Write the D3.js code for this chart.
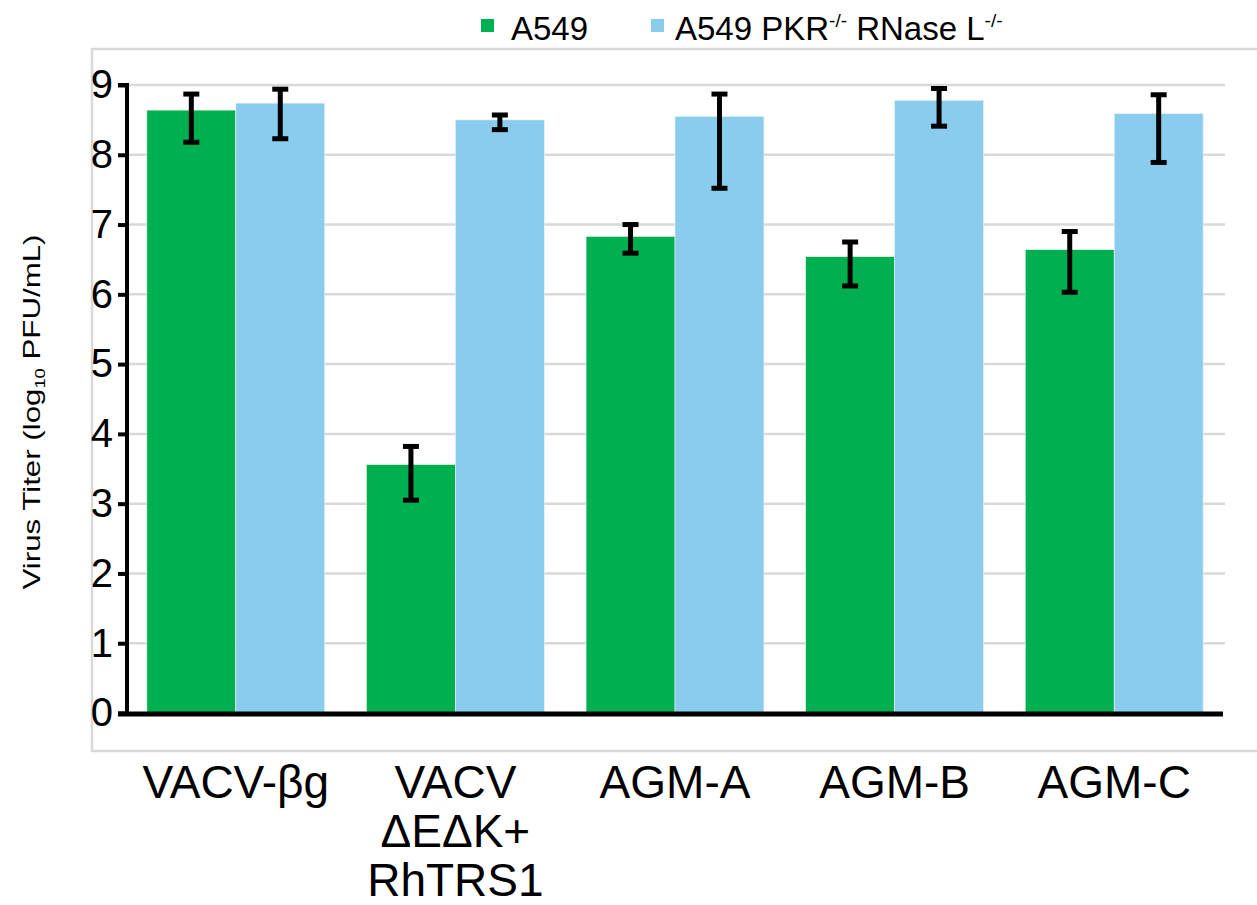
<!DOCTYPE html>
<html>
<head>
<meta charset="utf-8">
<script src="https://cdn.jsdelivr.net/npm/d3@7"></script>
<style>
  body { margin: 0; background: #fff; }
  svg { display: block; font-family: Arial, "Liberation Sans", sans-serif; }
</style>
</head>
<body>
<svg id="chart" width="1257" height="905"></svg>
<script>
// data
const groups = ["VACV-βg", "VACV\nΔEΔK+\nRhTRS1", "AGM-A", "AGM-B", "AGM-C"];
const seriesNames = ["A549", "A549 PKR-/- RNase L-/-"];
const a549 = [8.64, 3.56, 6.83, 6.54, 6.64];
const a549Lo = [8.18, 3.05, 6.59, 6.12, 6.03];
const a549Hi = [8.87, 3.82, 7.00, 6.75, 6.90];
const ko = [8.74, 8.50, 8.55, 8.78, 8.59];
const koLo = [8.23, 8.36, 7.52, 8.41, 7.89];
const koHi = [8.94, 8.57, 8.87, 8.95, 8.86];
const yTicks = [0, 1, 2, 3, 4, 5, 6, 7, 8, 9];
const colors = ["#00b050", "#89ccee"];

const svg = d3.select("#chart");

const x0 = d3.scaleBand().domain(groups).range([126, 1224]).paddingInner(0.19).paddingOuter(0.095);
const x1 = d3.scaleBand().domain([0, 1]).range([0, x0.bandwidth()]);
const y = d3.scaleLinear().domain([0, 9]).range([713, 85]);

// outer gray frame
svg.append("path")
  .attr("d", "M1260,49 H92 V751 H1260")
  .attr("fill", "none")
  .attr("stroke", "#d9d9d9")
  .attr("stroke-width", 2.5);

// gridlines
svg.append("g").selectAll("line")
  .data(yTicks.filter(d => d > 0))
  .join("line")
  .attr("x1", 127).attr("x2", 1225)
  .attr("y1", d => y(d)).attr("y2", d => y(d))
  .attr("stroke", "#d9d9d9")
  .attr("stroke-width", 2.5);

// bars
const rows = groups.map((g, i) => ({
  g,
  vals: [
    { s: 0, v: a549[i], lo: a549Lo[i], hi: a549Hi[i] },
    { s: 1, v: ko[i], lo: koLo[i], hi: koHi[i] }
  ]
}));

const gg = svg.append("g").selectAll("g")
  .data(rows)
  .join("g")
  .attr("transform", d => `translate(${x0(d.g)},0)`);

gg.selectAll("rect")
  .data(d => d.vals)
  .join("rect")
  .attr("x", d => x1(d.s))
  .attr("width", x1.bandwidth())
  .attr("y", d => y(d.v))
  .attr("height", d => y(0) - y(d.v))
  .attr("fill", d => colors[d.s])
  .attr("stroke", "#e8f6ee")
  .attr("stroke-width", 0.6);

// error bars
const eb = gg.selectAll("g.err")
  .data(d => d.vals)
  .join("g")
  .attr("class", "err")
  .attr("transform", d => `translate(${x1(d.s) + x1.bandwidth() / 2},0)`);

eb.append("line")
  .attr("y1", d => y(d.lo)).attr("y2", d => y(d.hi))
  .attr("stroke", "#000").attr("stroke-width", 5);
eb.selectAll("line.cap")
  .data(d => [d.lo, d.hi])
  .join("line")
  .attr("class", "cap")
  .attr("x1", -8).attr("x2", 8)
  .attr("y1", d => y(d)).attr("y2", d => y(d))
  .attr("stroke", "#000").attr("stroke-width", 5);

// y axis
const yAxis = d3.axisLeft(y).tickValues(yTicks).tickSize(9).tickPadding(5);
const ya = svg.append("g")
  .attr("transform", "translate(127,0)")
  .call(yAxis);
ya.select(".domain").attr("stroke-width", 4).attr("d", `M-9,${y(9)}H0V${y(0)}`);
ya.selectAll(".tick line").attr("stroke-width", 4);
ya.selectAll(".tick text")
  .attr("font-size", 40)
  .attr("font-family", "Arial, 'Liberation Sans', sans-serif")
  .attr("fill", "#000");

// x baseline
svg.append("line")
  .attr("x1", 118).attr("x2", 1223)
  .attr("y1", y(0) + 1).attr("y2", y(0) + 1)
  .attr("stroke", "#000").attr("stroke-width", 5);

// x category labels
const xl = svg.append("g").selectAll("text")
  .data(groups)
  .join("text")
  .attr("x", d => x0(d) + x0.bandwidth() / 2)
  .attr("y", 798)
  .attr("text-anchor", "middle")
  .attr("font-size", 46)
  .attr("fill", "#000");
xl.selectAll("tspan")
  .data(d => d.split("\n"))
  .join("tspan")
  .attr("x", function () { return d3.select(this.parentNode).attr("x"); })
  .attr("dy", (d, i) => i === 0 ? 0 : 49)
  .text(d => d);

// y axis title
const yt = svg.append("text")
  .attr("transform", "translate(40,412) rotate(-90)")
  .attr("text-anchor", "middle")
  .attr("font-size", 24)
  .attr("textLength", 355)
  .attr("lengthAdjust", "spacingAndGlyphs")
  .attr("fill", "#000");
yt.append("tspan").text("Virus Titer (log");
yt.append("tspan").attr("font-size", 14).attr("dy", 5).text("10");
yt.append("tspan").attr("dy", -5).text(" PFU/mL)");

// legend
const legend = svg.append("g");
const legendX = [481, 651];
legend.selectAll("rect")
  .data(seriesNames)
  .join("rect")
  .attr("x", (d, i) => legendX[i])
  .attr("y", 19)
  .attr("width", 13).attr("height", 13)
  .attr("fill", (d, i) => colors[i]);

legend.append("text")
  .attr("x", 511).attr("y", 40)
  .attr("font-size", 33).attr("fill", "#000")
  .text(seriesNames[0]);

const l2 = legend.append("text")
  .attr("x", 675).attr("y", 40)
  .attr("font-size", 33).attr("fill", "#000");
l2.append("tspan").text("A549 PKR");
l2.append("tspan").attr("font-size", 19).attr("dy", -13).text("-/-");
l2.append("tspan").attr("dy", 13).text(" RNase L");
l2.append("tspan").attr("font-size", 19).attr("dy", -13).text("-/-");
</script>
</body>
</html>
